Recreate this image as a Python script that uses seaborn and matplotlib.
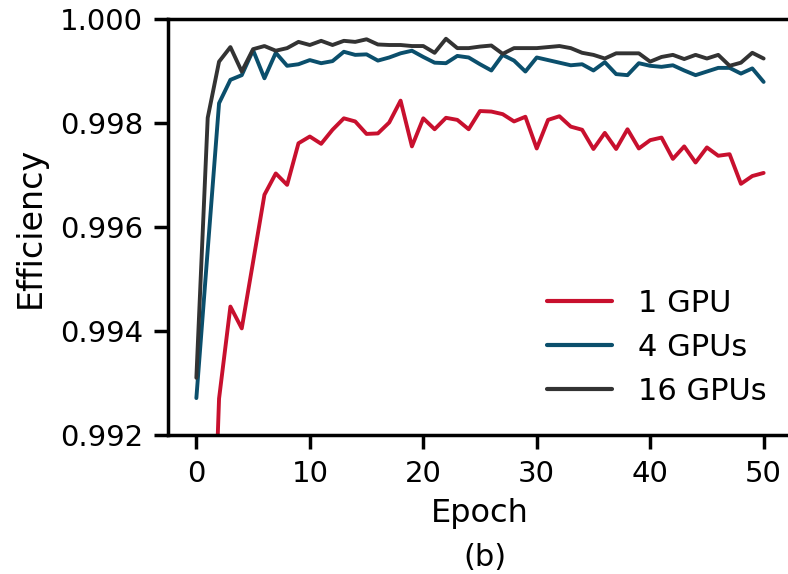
import numpy as np
import pandas as pd
import matplotlib
matplotlib.use('Agg')
import matplotlib.pyplot as plt
import seaborn as sns

# 데이터
epochs = list(range(51))

gpu1 = [0.9780, 0.9865, 0.9927, 0.99447, 0.99405, 0.99533, 0.99662, 0.99703, 0.99681, 0.99761,
        0.99774, 0.99760, 0.99787, 0.99809, 0.99803, 0.99779, 0.99780, 0.99801, 0.99843, 0.99755,
        0.99809, 0.99788, 0.99810, 0.99806, 0.99788, 0.99823, 0.99822, 0.99817, 0.99803, 0.99812,
        0.99751, 0.99806, 0.99813, 0.99793, 0.99787, 0.99750, 0.99781, 0.99750, 0.99788, 0.99751,
        0.99767, 0.99772, 0.99731, 0.99755, 0.99724, 0.99753, 0.99737, 0.99740, 0.99683, 0.99698,
        0.99704]

gpu4 = [0.99271, 0.99556, 0.99838, 0.99883, 0.99892, 0.99940, 0.99886, 0.99935, 0.99910, 0.99913,
        0.99921, 0.99915, 0.99919, 0.99937, 0.99931, 0.99932, 0.99920, 0.99926, 0.99934, 0.99939,
        0.99927, 0.99916, 0.99915, 0.99929, 0.99926, 0.99913, 0.99901, 0.99931, 0.99920, 0.99899,
        0.99926, 0.99921, 0.99916, 0.99911, 0.99913, 0.99901, 0.99917, 0.99894, 0.99892, 0.99915,
        0.99910, 0.99908, 0.99911, 0.99901, 0.99892, 0.99899, 0.99906, 0.99906, 0.99895, 0.99905,
        0.99879]

gpu16 = [0.99310, 0.99810, 0.99918, 0.99946, 0.99899, 0.99942, 0.99948, 0.99939, 0.99944, 0.99956,
         0.99950, 0.99958, 0.99950, 0.99958, 0.99956, 0.99961, 0.99951, 0.99950, 0.99950, 0.99948,
         0.99948, 0.99935, 0.99962, 0.99944, 0.99944, 0.99947, 0.99949, 0.99933, 0.99944, 0.99944,
         0.99944, 0.99946, 0.99948, 0.99944, 0.99935, 0.99931, 0.99924, 0.99934, 0.99934, 0.99934,
         0.99918, 0.99927, 0.99931, 0.99923, 0.99931, 0.99924, 0.99931, 0.99910, 0.99916, 0.99935,
         0.99924]

labels = ['1 GPU', '4 GPUs', '16 GPUs']
colors = ['#C8102E', '#0B4F6C', '#333333']

df = pd.DataFrame({
    'Epoch': epochs * 3,
    'Efficiency': gpu1 + gpu4 + gpu16,
    'Setup': [labels[0]] * 51 + [labels[1]] * 51 + [labels[2]] * 51,
})

sns.set_style('ticks')
plt.rcParams['font.family'] = ['DejaVu Sans']
plt.rcParams['axes.linewidth'] = 2.5
plt.rcParams['text.color'] = 'black'
plt.rcParams['axes.labelcolor'] = 'black'
plt.rcParams['xtick.color'] = 'black'
plt.rcParams['ytick.color'] = 'black'

fig = plt.figure(figsize=(7.88, 5.74), dpi=100)
ax = fig.add_axes([168 / 788, 139 / 574, 624 / 788, 416 / 574])

sns.lineplot(data=df, x='Epoch', y='Efficiency', hue='Setup', palette=colors,
             linewidth=2.8, ax=ax)

ax.set_ylim(0.992, 1.000)
ax.set_xlim(-2.5, 52.5)
ax.set_yticks([0.992, 0.994, 0.996, 0.998, 1.000])
ax.set_yticklabels(['0.992', '0.994', '0.996', '0.998', '1.000'])
ax.set_xticks([0, 10, 20, 30, 40, 50])
ax.tick_params(axis='both', length=10, width=2.5, labelsize=21, colors='black')
ax.tick_params(axis='x', pad=8)
ax.tick_params(axis='y', pad=8)
ax.set_xlabel('Epoch', fontsize=23, labelpad=7)
ax.set_ylabel('Efficiency', fontsize=24, labelpad=9)
for s in ax.spines.values():
    s.set_color('black')

ax.legend(title=None, frameon=False, fontsize=22, loc='upper left',
          bbox_to_anchor=(0.608, 0.352), borderaxespad=0, borderpad=0,
          handlelength=2.1, handletextpad=0.85, labelspacing=0.5)
for line in ax.get_legend().get_lines():
    line.set_linewidth(3)

fig.text(485 / 788, 1 - 558 / 574, '(b)', fontsize=22, ha='center', va='center')

fig.savefig('out.png', dpi=100)
